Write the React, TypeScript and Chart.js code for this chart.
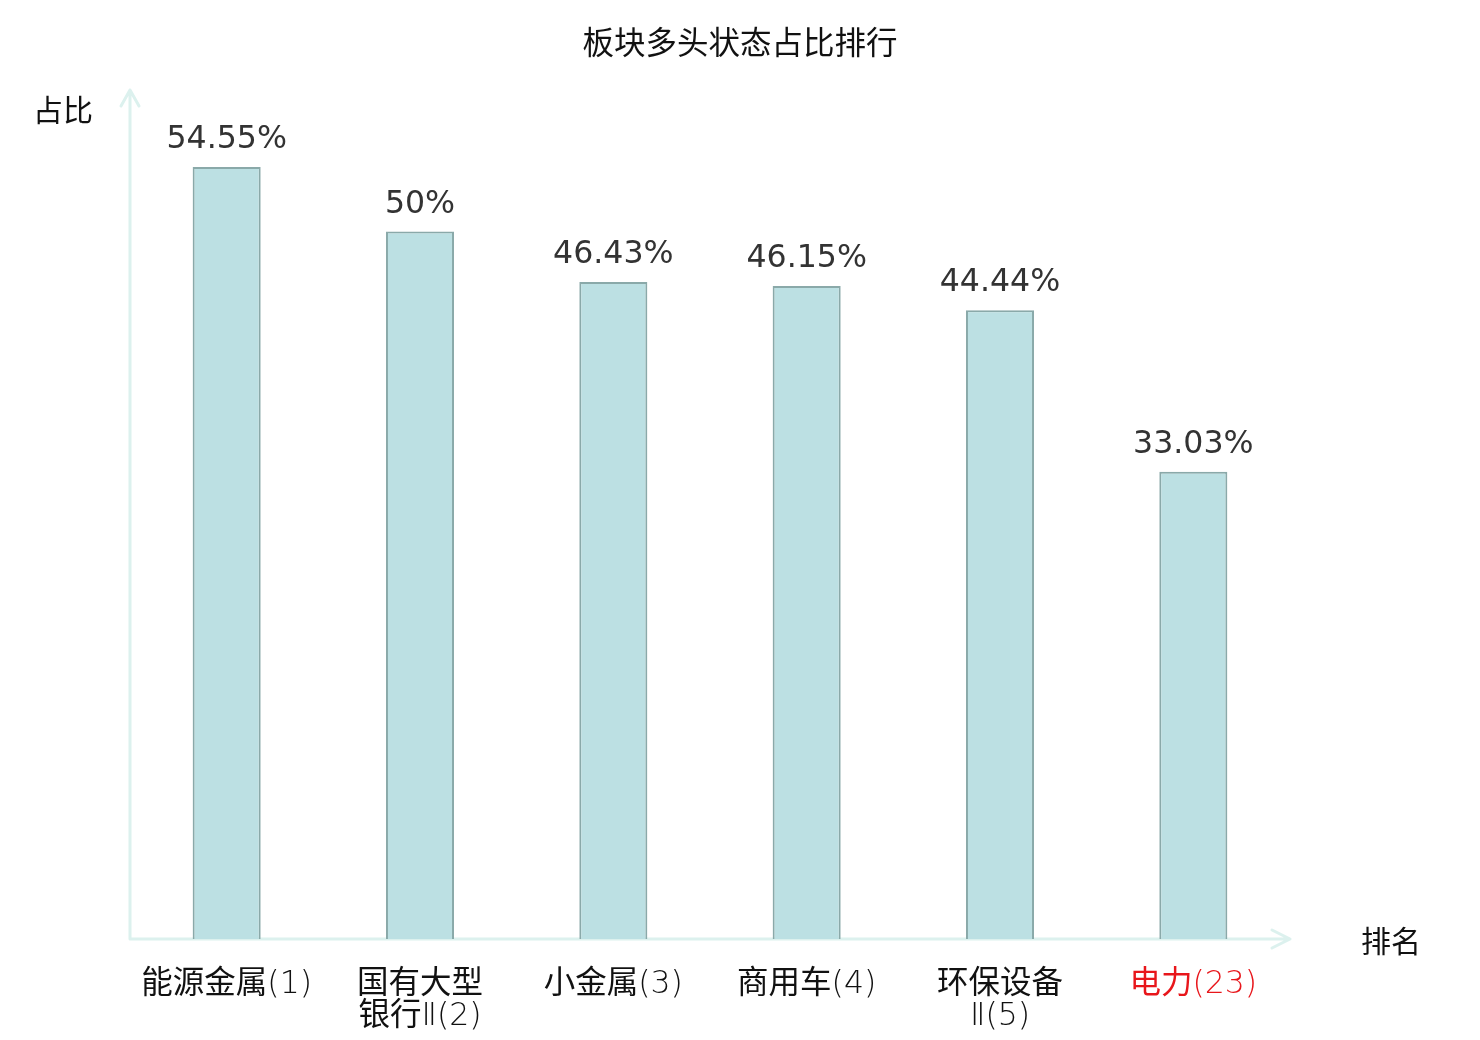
import { useEffect, useRef } from "react";
import { Chart, registerables, ChartItem, Plugin } from "chart.js";

Chart.register(...registerables);

const categories: (string | string[])[] = [
  "能源金属(1)",
  ["国有大型", "银行Ⅱ(2)"],
  "小金属(3)",
  "商用车(4)",
  ["环保设备", "Ⅱ(5)"],
  "电力(23)",
];
const shares = [54.55, 50, 46.43, 46.15, 44.44, 33.03];
const labelColors = ["#111", "#111", "#111", "#111", "#111", "#e8161b"];

const CJK = '"Noto Sans CJK SC", "Noto Sans", sans-serif';
const AXIS_COLOR = "#dcf1ee";

// title, axis names, arrowed axes and value labels
const decorations: Plugin<"bar"> = {
  id: "decorations",
  beforeDatasetsDraw(chart) {
    const { ctx, chartArea } = chart;
    const { left, right, top, bottom } = chartArea;
    ctx.save();
    ctx.strokeStyle = AXIS_COLOR;
    ctx.lineWidth = 3;
    ctx.lineCap = "round";
    ctx.lineJoin = "round";
    ctx.beginPath();
    ctx.moveTo(left, bottom);
    ctx.lineTo(right, bottom);
    ctx.moveTo(right - 18, bottom - 9);
    ctx.lineTo(right, bottom);
    ctx.lineTo(right - 18, bottom + 9);
    ctx.moveTo(left, bottom);
    ctx.lineTo(left, top);
    ctx.moveTo(left - 9, top + 16);
    ctx.lineTo(left, top);
    ctx.lineTo(left + 9, top + 16);
    ctx.stroke();
    ctx.restore();
  },
  afterDatasetsDraw(chart) {
    const { ctx } = chart;
    ctx.save();
    ctx.textAlign = "center";
    ctx.textBaseline = "middle";

    ctx.fillStyle = "#111";
    ctx.font = `31.5px ${CJK}`;
    ctx.fillText("板块多头状态占比排行", 740, 42);

    ctx.font = `30px ${CJK}`;
    ctx.fillText("占比", 63, 110);
    ctx.fillText("排名", 1391, 941);

    ctx.fillStyle = "#333";
    ctx.font = '31.6px "DejaVu Sans", sans-serif';
    const meta = chart.getDatasetMeta(0);
    meta.data.forEach((bar, i) => {
      ctx.fillText(`${shares[i]}%`, bar.x, bar.y - 27);
    });
    ctx.restore();
  },
};

export default function App() {
  const canvasRef = useRef<HTMLCanvasElement>(null);

  useEffect(() => {
    const canvas = canvasRef.current;
    if (!canvas) return;
    const chart = new Chart(canvas as ChartItem, {
      type: "bar",
      data: {
        labels: categories,
        datasets: [
          {
            data: shares,
            backgroundColor: "#bce0e3",
            borderColor: "#8aa9a9",
            borderWidth: 2,
            borderSkipped: "bottom",
            categoryPercentage: 1,
            barPercentage: 0.352,
          },
        ],
      },
      options: {
        animation: false,
        responsive: false,
        devicePixelRatio: 1,
        layout: { padding: { left: 130, right: 190, top: 90, bottom: 0 } },
        plugins: {
          legend: { display: false },
          tooltip: { enabled: false },
          title: { display: false },
        },
        scales: {
          x: {
            grid: { display: false, drawTicks: false, tickLength: 0 },
            border: { display: false },
            afterFit: (scale) => {
              scale.height = 101;
            },
            ticks: {
              padding: 30,
              maxRotation: 0,
              autoSkip: false,
              font: {
                family: '"DejaVu Sans Light", "Noto Sans CJK SC", sans-serif',
                size: 31.5,
                lineHeight: "32px",
              },
              color: (c) => labelColors[c.index] ?? "#111",
            },
          },
          y: {
            display: false,
            min: 0,
            max: 60,
          },
        },
      },
      plugins: [decorations],
    });
    return () => chart.destroy();
  }, []);

  return (
    <div style={{ position: "fixed", left: 0, top: 0, width: 1480, height: 1040, background: "#fff" }}>
      <canvas ref={canvasRef} width={1480} height={1040} style={{ width: 1480, height: 1040 }} />
    </div>
  );
}
